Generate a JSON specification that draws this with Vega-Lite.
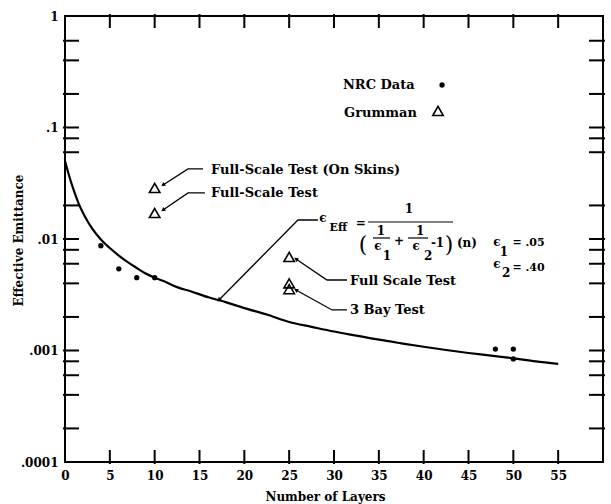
{
  "$schema": "https://vega.github.io/schema/vega-lite/v6.json",
  "width": 538,
  "height": 446,
  "autosize": {"type": "none"},
  "padding": {"left": 65, "top": 16, "right": 8, "bottom": 42},
  "background": "white",
  "config": {
    "font": "DejaVu Serif",
    "view": {"stroke": "black", "strokeWidth": 2},
    "axis": {
      "domain": false, "grid": false, "ticks": false,
      "labelFont": "DejaVu Serif", "labelFontWeight": "bold", "labelFontSize": 12, "labelColor": "black",
      "titleFont": "DejaVu Serif", "titleFontWeight": "bold", "titleFontSize": 12, "titleColor": "black"
    },
    "text": {"font": "DejaVu Serif", "fontWeight": "bold", "color": "black"}
  },
  "datasets": {
    "curve": [
      {"n": 0, "e": 0.05}, {"n": 0.5, "e": 0.036}, {"n": 1, "e": 0.027}, {"n": 1.5, "e": 0.021},
      {"n": 2, "e": 0.0172}, {"n": 2.5, "e": 0.0145}, {"n": 3, "e": 0.0125}, {"n": 4, "e": 0.0099},
      {"n": 5, "e": 0.0083}, {"n": 6, "e": 0.0071}, {"n": 7, "e": 0.0062}, {"n": 8, "e": 0.0055},
      {"n": 9, "e": 0.0049}, {"n": 10, "e": 0.0045}, {"n": 11, "e": 0.0042}, {"n": 12.5, "e": 0.0037},
      {"n": 14, "e": 0.0034}, {"n": 16, "e": 0.003}, {"n": 18, "e": 0.0027}, {"n": 20, "e": 0.0024},
      {"n": 22.5, "e": 0.0021}, {"n": 25, "e": 0.0018}, {"n": 27.5, "e": 0.00163}, {"n": 30, "e": 0.00148},
      {"n": 32.5, "e": 0.00136}, {"n": 35, "e": 0.00125}, {"n": 37.5, "e": 0.00116}, {"n": 40, "e": 0.00108},
      {"n": 42.5, "e": 0.00101}, {"n": 45, "e": 0.00095}, {"n": 47.5, "e": 0.0009}, {"n": 50, "e": 0.00085},
      {"n": 52.5, "e": 0.0008}, {"n": 55, "e": 0.00076}
    ],
    "nrc": [
      {"n": 4, "e": 0.0087}, {"n": 6, "e": 0.0054}, {"n": 8, "e": 0.0045}, {"n": 10, "e": 0.0045},
      {"n": 48, "e": 0.00103}, {"n": 50, "e": 0.00103}, {"n": 50, "e": 0.00084},
      {"n": 42.05, "e": 0.2405}
    ],
    "grumman": [
      {"n": 10, "e": 0.0287}, {"n": 10, "e": 0.0171}, {"n": 25, "e": 0.0069}, {"n": 25, "e": 0.004},
      {"n": 25, "e": 0.00355}, {"n": 41.6, "e": 0.1406}
    ],
    "xticks": [
      {"n": 5}, {"n": 10}, {"n": 15}, {"n": 20}, {"n": 25}, {"n": 30}, {"n": 35}, {"n": 40}, {"n": 45}, {"n": 50}, {"n": 55}
    ],
    "yticks": [
      {"e": 0.6}, {"e": 0.4}, {"e": 0.2}, {"e": 0.1}, {"e": 0.08}, {"e": 0.06}, {"e": 0.02}, {"e": 0.01},
      {"e": 0.008}, {"e": 0.006}, {"e": 0.004}, {"e": 0.002}, {"e": 0.001},
      {"e": 0.0008}, {"e": 0.0006}, {"e": 0.0004}, {"e": 0.0002}
    ],
    "leaders": [
      {"id": "a1", "o": 0, "n": 10.93, "e": 0.0305}, {"id": "a1", "o": 1, "n": 13.72, "e": 0.0425}, {"id": "a1", "o": 2, "n": 15.39, "e": 0.0425},
      {"id": "a2", "o": 0, "n": 10.93, "e": 0.0182}, {"id": "a2", "o": 1, "n": 13.72, "e": 0.0259}, {"id": "a2", "o": 2, "n": 15.61, "e": 0.0259},
      {"id": "a3", "o": 0, "n": 17.17, "e": 0.00284}, {"id": "a3", "o": 1, "n": 25.98, "e": 0.0148}, {"id": "a3", "o": 2, "n": 28.21, "e": 0.0148},
      {"id": "a4", "o": 0, "n": 25.76, "e": 0.00662}, {"id": "a4", "o": 1, "n": 29.22, "e": 0.00429}, {"id": "a4", "o": 2, "n": 31.45, "e": 0.00429},
      {"id": "a5", "o": 0, "n": 25.76, "e": 0.00349}, {"id": "a5", "o": 1, "n": 29.78, "e": 0.00231}, {"id": "a5", "o": 2, "n": 31.45, "e": 0.00231}
    ],
    "heads": [
      {"n": 10.93, "e": 0.0305, "dir": 237}, {"n": 10.93, "e": 0.0182, "dir": 236},
      {"n": 17.17, "e": 0.00284, "dir": 225}, {"n": 25.76, "e": 0.00662, "dir": 304},
      {"n": 25.76, "e": 0.00349, "dir": 299}
    ],
    "texts": [
      {"kind": "label", "n": 31.0, "e": 0.2405, "t": "NRC Data"},
      {"kind": "label", "n": 31.12, "e": 0.1349, "t": "Grumman"},
      {"kind": "label", "n": 16.28, "e": 0.0416, "t": "Full-Scale Test (On Skins)"},
      {"kind": "label", "n": 16.28, "e": 0.0259, "t": "Full-Scale Test"},
      {"kind": "label", "n": 31.78, "e": 0.0042, "t": "Full Scale Test"},
      {"kind": "label", "n": 31.78, "e": 0.00231, "t": "3 Bay Test"},
      {"kind": "fl", "n": 29.5, "e": 0.01255, "t": "Eff"},
      {"kind": "fl", "n": 49.9, "e": 0.0093, "t": "= .05"},
      {"kind": "fl", "n": 49.9, "e": 0.0055, "t": "= .40"},
      {"kind": "fc", "n": 28.77, "e": 0.0154, "t": "ϵ"},
      {"kind": "fc", "n": 33.0, "e": 0.0139, "t": "="},
      {"kind": "fc", "n": 38.36, "e": 0.01858, "t": "1"},
      {"kind": "fc", "n": 35.24, "e": 0.0118, "t": "1"},
      {"kind": "fc", "n": 34.91, "e": 0.00865, "t": "ϵ"},
      {"kind": "fc", "n": 37.26, "e": 0.00959, "t": "+"},
      {"kind": "fc", "n": 39.6, "e": 0.0118, "t": "1"},
      {"kind": "fc", "n": 39.16, "e": 0.00865, "t": "ϵ"},
      {"kind": "fc", "n": 41.55, "e": 0.0092, "t": "-1"},
      {"kind": "fc", "n": 44.83, "e": 0.0092, "t": "(n)"},
      {"kind": "fc", "n": 48.18, "e": 0.0094, "t": "ϵ"},
      {"kind": "fc", "n": 48.18, "e": 0.00597, "t": "ϵ"},
      {"kind": "sub", "n": 35.91, "e": 0.00704, "t": "1"},
      {"kind": "sub", "n": 40.49, "e": 0.00704, "t": "2"},
      {"kind": "sub", "n": 48.96, "e": 0.00764, "t": "1"},
      {"kind": "sub", "n": 49.2, "e": 0.00495, "t": "2"},
      {"kind": "paren", "n": 33.23, "e": 0.00883, "t": "("},
      {"kind": "paren", "n": 42.83, "e": 0.00883, "t": ")"}
    ],
    "fracs": [
      {"n1": 33.8, "n2": 43.27, "e": 0.0142},
      {"n1": 34.35, "n2": 36.25, "e": 0.01021},
      {"n1": 38.26, "n2": 40.49, "e": 0.01021}
    ]
  },
  "layer": [
    {
      "data": {"name": "curve"},
      "mark": {"type": "line", "color": "black", "strokeWidth": 2.2, "interpolate": "monotone"},
      "encoding": {
        "x": {"field": "n", "type": "quantitative",
          "scale": {"domain": [0, 60], "nice": false, "zero": false},
          "axis": {"orient": "bottom", "values": [0, 5, 10, 15, 20, 25, 30, 35, 40, 45, 50, 55], "tickSize": 0, "labelPadding": 8, "title": "Number of Layers", "titleX": 260, "titleY": 34, "titleBaseline": "middle", "labelFlush": false}},
        "y": {"field": "e", "type": "quantitative",
          "scale": {"type": "log", "domain": [0.0001, 1], "nice": false},
          "axis": {"orient": "left", "values": [1, 0.1, 0.01, 0.001, 0.0001],
            "labelExpr": "datum.value == 1 ? '1' : datum.value == 0.1 ? '.1' : datum.value == 0.01 ? '.01' : datum.value == 0.001 ? '.001' : '.0001'",
            "tickSize": 0, "labelPadding": 7, "labelFlush": false, "title": "Effective Emittance", "titleX": -47, "titleY": 224, "titleAngle": -90, "titleAlign": "center", "titleBaseline": "middle"}}
      }
    },
    {
      "data": {"name": "xticks"},
      "mark": {"type": "tick", "orient": "vertical", "color": "black", "size": 14, "thickness": 2, "opacity": 1, "yOffset": -5},
      "encoding": {
        "x": {"field": "n", "type": "quantitative"},
        "y": {"datum": 0.0001, "type": "quantitative"}
      }
    },
    {
      "data": {"name": "xticks"},
      "mark": {"type": "tick", "orient": "vertical", "color": "black", "size": 14, "thickness": 2, "opacity": 1, "yOffset": 5},
      "encoding": {
        "x": {"field": "n", "type": "quantitative"},
        "y": {"datum": 1, "type": "quantitative"}
      }
    },
    {
      "data": {"name": "yticks"},
      "mark": {"type": "tick", "orient": "horizontal", "color": "black", "size": 16, "thickness": 2, "opacity": 1, "xOffset": 6},
      "encoding": {
        "y": {"field": "e", "type": "quantitative"},
        "x": {"datum": 0, "type": "quantitative"}
      }
    },
    {
      "data": {"name": "yticks"},
      "mark": {"type": "tick", "orient": "horizontal", "color": "black", "size": 16, "thickness": 2, "opacity": 1, "xOffset": -6},
      "encoding": {
        "y": {"field": "e", "type": "quantitative"},
        "x": {"datum": 60, "type": "quantitative"}
      }
    },
    {
      "data": {"name": "fracs"},
      "mark": {"type": "rule", "color": "black", "strokeWidth": 1.2},
      "encoding": {
        "x": {"field": "n1", "type": "quantitative"},
        "x2": {"field": "n2"},
        "y": {"field": "e", "type": "quantitative"}
      }
    },
    {
      "data": {"name": "nrc"},
      "mark": {"type": "circle", "color": "black", "opacity": 1, "size": 28},
      "encoding": {
        "x": {"field": "n", "type": "quantitative"},
        "y": {"field": "e", "type": "quantitative"}
      }
    },
    {
      "data": {"name": "grumman"},
      "mark": {"type": "point", "shape": "triangle-up", "filled": false, "stroke": "black", "strokeWidth": 1.6, "size": 110, "opacity": 1},
      "encoding": {
        "x": {"field": "n", "type": "quantitative"},
        "y": {"field": "e", "type": "quantitative"}
      }
    },
    {
      "data": {"name": "leaders"},
      "mark": {"type": "line", "color": "black", "strokeWidth": 1.3},
      "encoding": {
        "x": {"field": "n", "type": "quantitative"},
        "y": {"field": "e", "type": "quantitative"},
        "detail": {"field": "id"},
        "order": {"field": "o"}
      }
    },
    {
      "data": {"name": "heads"},
      "mark": {"type": "point", "shape": "triangle-up", "filled": true, "color": "black", "size": 22, "opacity": 1},
      "encoding": {
        "x": {"field": "n", "type": "quantitative"},
        "y": {"field": "e", "type": "quantitative"},
        "angle": {"field": "dir", "type": "quantitative", "scale": null}
      }
    },
    {
      "data": {"name": "texts"},
      "transform": [{"filter": "datum.kind == 'label'"}],
      "mark": {"type": "text", "align": "left", "baseline": "middle", "fontSize": 13},
      "encoding": {
        "x": {"field": "n", "type": "quantitative"},
        "y": {"field": "e", "type": "quantitative"},
        "text": {"field": "t"}
      }
    },
    {
      "data": {"name": "texts"},
      "transform": [{"filter": "datum.kind == 'fl'"}],
      "mark": {"type": "text", "align": "left", "baseline": "middle", "fontSize": 11},
      "encoding": {
        "x": {"field": "n", "type": "quantitative"},
        "y": {"field": "e", "type": "quantitative"},
        "text": {"field": "t"}
      }
    },
    {
      "data": {"name": "texts"},
      "transform": [{"filter": "datum.kind == 'fc'"}],
      "mark": {"type": "text", "align": "center", "baseline": "middle", "fontSize": 12},
      "encoding": {
        "x": {"field": "n", "type": "quantitative"},
        "y": {"field": "e", "type": "quantitative"},
        "text": {"field": "t"}
      }
    },
    {
      "data": {"name": "texts"},
      "transform": [{"filter": "datum.kind == 'sub'"}],
      "mark": {"type": "text", "align": "center", "baseline": "middle", "fontSize": 12},
      "encoding": {
        "x": {"field": "n", "type": "quantitative"},
        "y": {"field": "e", "type": "quantitative"},
        "text": {"field": "t"}
      }
    },
    {
      "data": {"name": "texts"},
      "transform": [{"filter": "datum.kind == 'paren'"}],
      "mark": {"type": "text", "align": "center", "baseline": "middle", "fontSize": 22, "fontWeight": "normal"},
      "encoding": {
        "x": {"field": "n", "type": "quantitative"},
        "y": {"field": "e", "type": "quantitative"},
        "text": {"field": "t"}
      }
    }
  ]
}
